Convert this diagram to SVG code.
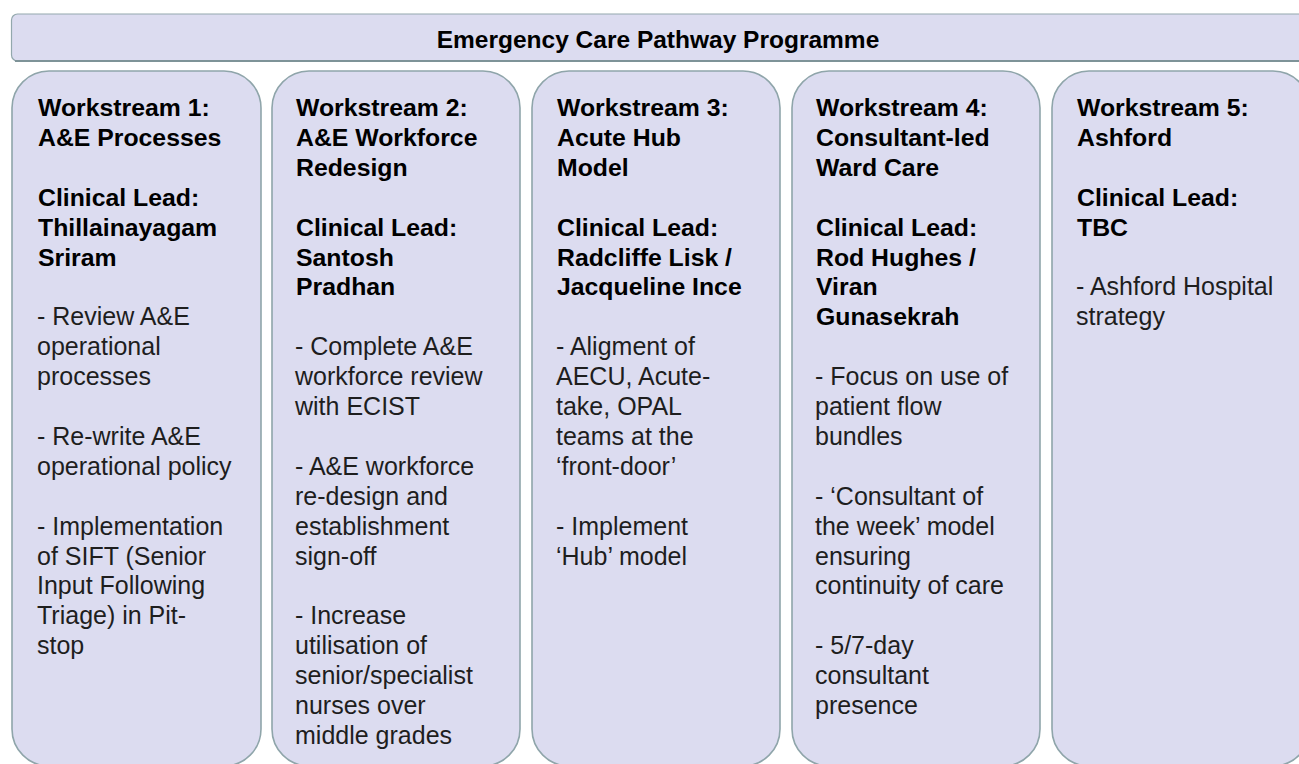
<svg xmlns="http://www.w3.org/2000/svg" width="1299" height="764" viewBox="0 0 1299 764">
  <style>
    .box { fill: #dcdcf0; stroke: #8fa5aa; stroke-width: 1.6; }
    .banner { fill: #dcdcf0; stroke: #93a8ad; stroke-width: 1.2; }
    .shade { fill: none; stroke: #7e9398; stroke-width: 2.2; }
    .h { font-family: "Liberation Sans", Arial, sans-serif; font-size: 24.8px; font-weight: bold; fill: #000; }
    .t { font-family: "Liberation Sans", Arial, sans-serif; font-size: 25px; fill: #1e1e1e; }
    .title { font-family: "Liberation Sans", Arial, sans-serif; font-size: 24.5px; font-weight: bold; fill: #000; text-anchor: middle; }
  </style>
  <rect width="1299" height="764" fill="#ffffff"/>

  <!-- programme banner -->
  <g id="programme">
    <rect class="banner" x="11.5" y="14" width="1300" height="47" rx="6" ry="6"/>
    <line class="shade" x1="15" y1="61" x2="1299" y2="61"/>
    <text class="title" x="658" y="47.5">Emergency Care Pathway Programme</text>
  </g>

  <!-- workstream 1 -->
  <g id="ws1">
    <rect class="box" x="12" y="71" width="249" height="695" rx="37" ry="37"/>
    <text class="h">
      <tspan x="38" y="116">Workstream 1:</tspan>
      <tspan x="38" y="145.9">A&amp;E Processes</tspan>
      <tspan x="38" y="205.7">Clinical Lead:</tspan>
      <tspan x="38" y="235.6">Thillainayagam</tspan>
      <tspan x="38" y="265.5">Sriram</tspan>
    </text>
    <text class="t">
      <tspan x="37" y="325.3">- Review A&amp;E</tspan>
      <tspan x="37" y="355.2">operational</tspan>
      <tspan x="37" y="385.1">processes</tspan>
      <tspan x="37" y="444.9">- Re-write A&amp;E</tspan>
      <tspan x="37" y="474.8">operational policy</tspan>
      <tspan x="37" y="534.6">- Implementation</tspan>
      <tspan x="37" y="564.5">of SIFT (Senior</tspan>
      <tspan x="37" y="594.4">Input Following</tspan>
      <tspan x="37" y="624.3">Triage) in Pit-</tspan>
      <tspan x="37" y="654.2">stop</tspan>
    </text>
  </g>

  <!-- workstream 2 -->
  <g id="ws2">
    <rect class="box" x="272" y="71" width="248" height="695" rx="37" ry="37"/>
    <text class="h">
      <tspan x="296" y="116">Workstream 2:</tspan>
      <tspan x="296" y="145.9">A&amp;E Workforce</tspan>
      <tspan x="296" y="175.8">Redesign</tspan>
      <tspan x="296" y="235.6">Clinical Lead:</tspan>
      <tspan x="296" y="265.5">Santosh</tspan>
      <tspan x="296" y="295.4">Pradhan</tspan>
    </text>
    <text class="t">
      <tspan x="295" y="355.2">- Complete A&amp;E</tspan>
      <tspan x="295" y="385.1">workforce review</tspan>
      <tspan x="295" y="415">with ECIST</tspan>
      <tspan x="295" y="474.8">- A&amp;E workforce</tspan>
      <tspan x="295" y="504.7">re-design and</tspan>
      <tspan x="295" y="534.6">establishment</tspan>
      <tspan x="295" y="564.5">sign-off</tspan>
      <tspan x="295" y="624.3">- Increase</tspan>
      <tspan x="295" y="654.2">utilisation of</tspan>
      <tspan x="295" y="684.1">senior/specialist</tspan>
      <tspan x="295" y="714">nurses over</tspan>
      <tspan x="295" y="743.9">middle grades</tspan>
    </text>
  </g>

  <!-- workstream 3 -->
  <g id="ws3">
    <rect class="box" x="532" y="71" width="248" height="695" rx="37" ry="37"/>
    <text class="h">
      <tspan x="557" y="116">Workstream 3:</tspan>
      <tspan x="557" y="145.9">Acute Hub</tspan>
      <tspan x="557" y="175.8">Model</tspan>
      <tspan x="557" y="235.6">Clinical Lead:</tspan>
      <tspan x="557" y="265.5">Radcliffe Lisk /</tspan>
      <tspan x="557" y="295.4">Jacqueline Ince</tspan>
    </text>
    <text class="t">
      <tspan x="556" y="355.2">- Aligment of</tspan>
      <tspan x="556" y="385.1">AECU, Acute-</tspan>
      <tspan x="556" y="415">take, OPAL</tspan>
      <tspan x="556" y="444.9">teams at the</tspan>
      <tspan x="556" y="474.8">‘front-door’</tspan>
      <tspan x="556" y="534.6">- Implement</tspan>
      <tspan x="556" y="564.5">‘Hub’ model</tspan>
    </text>
  </g>

  <!-- workstream 4 -->
  <g id="ws4">
    <rect class="box" x="792" y="71" width="248" height="695" rx="37" ry="37"/>
    <text class="h">
      <tspan x="816" y="116">Workstream 4:</tspan>
      <tspan x="816" y="145.9">Consultant-led</tspan>
      <tspan x="816" y="175.8">Ward Care</tspan>
      <tspan x="816" y="235.6">Clinical Lead:</tspan>
      <tspan x="816" y="265.5">Rod Hughes /</tspan>
      <tspan x="816" y="295.4">Viran</tspan>
      <tspan x="816" y="325.3">Gunasekrah</tspan>
    </text>
    <text class="t">
      <tspan x="815" y="385.1">- Focus on use of</tspan>
      <tspan x="815" y="415">patient flow</tspan>
      <tspan x="815" y="444.9">bundles</tspan>
      <tspan x="815" y="504.7">- ‘Consultant of</tspan>
      <tspan x="815" y="534.6">the week’ model</tspan>
      <tspan x="815" y="564.5">ensuring</tspan>
      <tspan x="815" y="594.4">continuity of care</tspan>
      <tspan x="815" y="654.2">- 5/7-day</tspan>
      <tspan x="815" y="684.1">consultant</tspan>
      <tspan x="815" y="714">presence</tspan>
    </text>
  </g>

  <!-- workstream 5 -->
  <g id="ws5">
    <rect class="box" x="1052" y="71" width="258" height="695" rx="37" ry="37"/>
    <text class="h">
      <tspan x="1077" y="116">Workstream 5:</tspan>
      <tspan x="1077" y="145.9">Ashford</tspan>
      <tspan x="1077" y="205.7">Clinical Lead:</tspan>
      <tspan x="1077" y="235.6">TBC</tspan>
    </text>
    <text class="t">
      <tspan x="1076" y="295.4">- Ashford Hospital</tspan>
      <tspan x="1076" y="325.3">strategy</tspan>
    </text>
  </g>
</svg>
